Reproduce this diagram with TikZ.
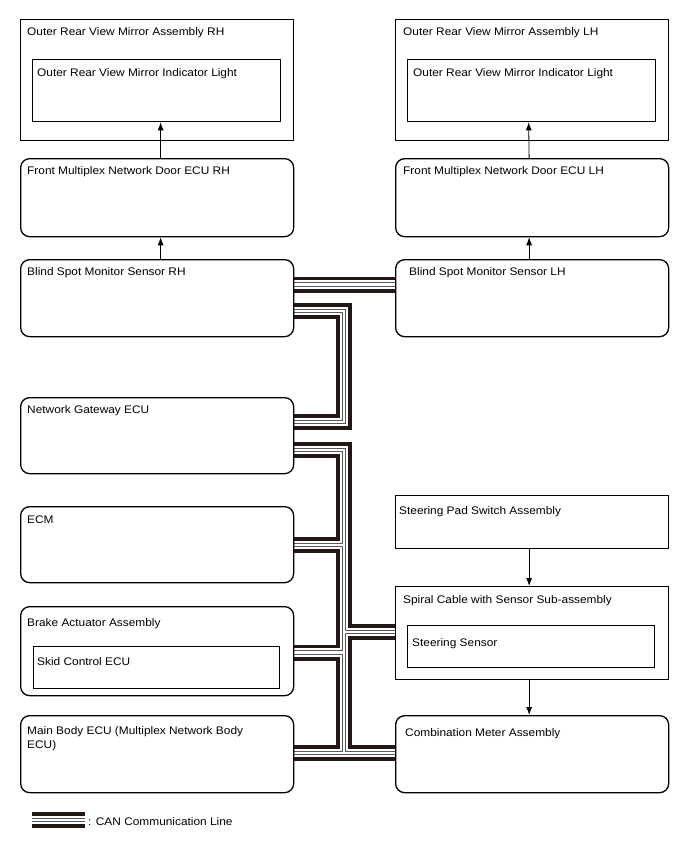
\documentclass[tikz,border=0pt]{standalone}
\usepackage{fontspec}
\setmainfont{Liberation Sans}[FakeStretch=1.08]
\usetikzlibrary{arrows.meta,backgrounds}
\definecolor{canblack}{RGB}{35,24,21}

\begin{document}
\begin{tikzpicture}[x=1pt,y=-1pt,font=\fontsize{11}{14}\selectfont]
\useasboundingbox (0,0) rectangle (688,852);

% 1. Stile definieren
\tikzset{
  ecu box/.style={draw, rounded corners=9pt, line width=1.3pt, fill=white,
    anchor=north west, inner sep=0pt, minimum width=273pt, minimum height=77pt},
  part box/.style={draw, line width=1.3pt, fill=white,
    anchor=north west, inner sep=0pt},
  box text/.style={anchor=base west, inner sep=0pt, align=left},
  can line/.style={
    white, line width=2.6pt,
    preaction={draw=canblack, line width=16pt},
    preaction={draw=white, line width=8.6pt},
    preaction={draw=gray!70!black, line width=4.6pt}
  },
  signal/.style={-{Latex[length=8pt,width=6pt]}, line width=0.8pt}
}

% 2. Koordinaten fuer die CAN-Leitungen
\coordinate (bl) at (344,284.5);
\coordinate (b1) at (344,311);
\coordinate (b2) at (344,422);
\coordinate (t0) at (344,450);
\coordinate (t1) at (344,545);
\coordinate (t2) at (344,632);
\coordinate (t3) at (344,652.5);
\coordinate (t4) at (344,753);
\coordinate (lg1) at (32,820);
\coordinate (lg2) at (85,820);

% 3. Kaesten
\node (mirR) [part box, minimum width=273pt, minimum height=121pt,
  label={[box text, xshift=7pt, yshift=-16pt]north west:{Outer Rear View Mirror Assembly RH}}] at (20,19) {};
\node (mirRi) [part box, minimum width=248pt, minimum height=62pt,
  label={[box text, xshift=5pt, yshift=-17pt]north west:{Outer Rear View Mirror Indicator Light}}] at (32,59) {};
\node (mirL) [part box, minimum width=273pt, minimum height=121pt,
  label={[box text, xshift=8pt, yshift=-16pt]north west:{Outer Rear View Mirror Assembly LH}}] at (395,19) {};
\node (mirLi) [part box, minimum width=248pt, minimum height=62pt,
  label={[box text, xshift=6pt, yshift=-17pt]north west:{Outer Rear View Mirror Indicator Light}}] at (407,59) {};

\node (doorR) [ecu box, minimum height=78pt,
  label={[box text, xshift=7pt, yshift=-16pt]north west:{Front Multiplex Network Door ECU RH}}] at (20,158) {};
\node (doorL) [ecu box, minimum height=78pt,
  label={[box text, xshift=8pt, yshift=-16pt]north west:{Front Multiplex Network Door ECU LH}}] at (395,158) {};
\node (bsmR) [ecu box,
  label={[box text, xshift=7pt, yshift=-16pt]north west:{Blind Spot Monitor Sensor RH}}] at (20,259) {};
\node (bsmL) [ecu box,
  label={[box text, xshift=14pt, yshift=-16pt]north west:{Blind Spot Monitor Sensor LH}}] at (395,259) {};
\node (gw) [ecu box, minimum height=76pt,
  label={[box text, xshift=7pt, yshift=-16pt]north west:{Network Gateway ECU}}] at (20,397) {};
\node (ecm) [ecu box, minimum height=76pt,
  label={[box text, xshift=7pt, yshift=-17pt]north west:{ECM}}] at (20,506) {};
\node (brake) [ecu box, minimum height=89pt,
  label={[box text, xshift=7pt, yshift=-20pt]north west:{Brake Actuator Assembly}}] at (20,606) {};
\node (skid) [part box, minimum width=246pt, minimum height=42pt,
  label={[box text, xshift=4pt, yshift=-19pt]north west:{Skid Control ECU}}] at (33,646) {};
\node (main) [ecu box,
  label={[box text, xshift=7pt, yshift=-33pt]north west:{Main Body ECU (Multiplex Network Body\\ECU)}}] at (20,715) {};

\node (pad) [part box, minimum width=273pt, minimum height=53pt,
  label={[box text, xshift=4pt, yshift=-19pt]north west:{Steering Pad Switch Assembly}}] at (395,495) {};
\node (spiral) [part box, minimum width=273pt, minimum height=93pt,
  label={[box text, xshift=8pt, yshift=-17pt]north west:{Spiral Cable with Sensor Sub-assembly}}] at (395,586) {};
\node (sens) [part box, minimum width=247pt, minimum height=42pt,
  label={[box text, xshift=5pt, yshift=-21pt]north west:{Steering Sensor}}] at (407,625) {};
\node (comb) [ecu box,
  label={[box text, xshift=10pt, yshift=-21pt]north west:{Combination Meter Assembly}}] at (395,715) {};

% 4. CAN-Leitungen (hinter den Kaesten)
\begin{scope}[on background layer]
\draw [can line] (bsmR.east |- bl) -- (bsmL.west |- bl);
\draw [can line] (bsmR.east |- b1) -- (b1) -- (b2) -- (gw.east |- b2);
\draw [can line] (gw.east |- t0) -- (t0) -- (t4)
  (ecm.east |- t1) -- (t1)
  (t2) -- (spiral.west |- t2)
  (brake.east |- t3) -- (t3)
  (main.east |- t4) -- (comb.west |- t4);
\end{scope}

% 5. Pfeile
\draw [signal] ([xshift=3.5pt]doorR.north) -- ([xshift=4pt]mirRi.south);
\draw [signal] ([xshift=-3pt]doorL.north) -- ([xshift=-3pt]mirLi.south);
\draw [signal] ([xshift=3.5pt]bsmR.north) -- ([xshift=3.5pt]doorR.south);
\draw [signal] ([xshift=-3pt]bsmL.north) -- ([xshift=-3pt]doorL.south);
\draw [signal] ([xshift=-3pt]pad.south) -- ([xshift=-3pt]spiral.north);
\draw [signal] ([xshift=-3pt]spiral.south) -- ([xshift=-3pt]comb.north);

% 6. Legende
\draw [can line] (lg1) -- (lg2);
\node (lgtext) [box text] at (88,825) {: CAN Communication Line};

\end{tikzpicture}
\end{document}
